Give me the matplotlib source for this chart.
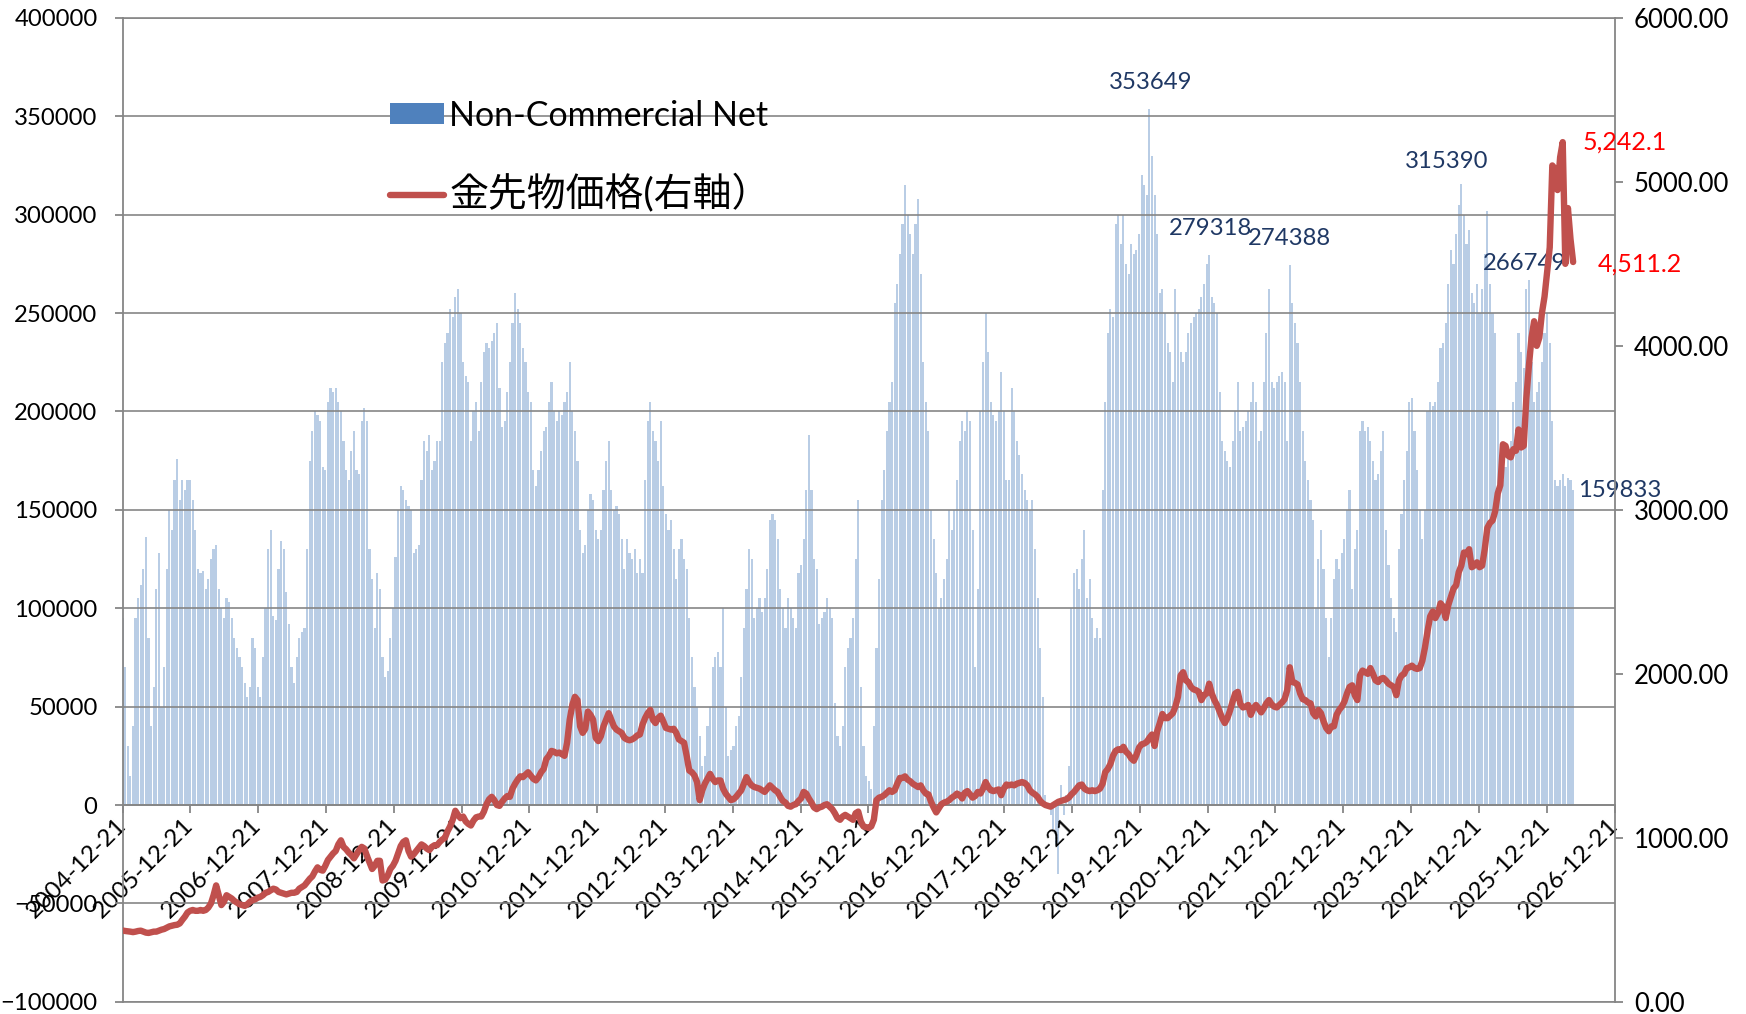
import numpy as np
import pandas as pd
import matplotlib
matplotlib.use('Agg')
import matplotlib.pyplot as plt
from matplotlib.patches import Patch
from matplotlib.lines import Line2D

plt.rcParams['font.family'] = ['Lato', 'Noto Sans CJK JP', 'DejaVu Sans']

# COT report dates, every second Tuesday from 2004-12-21
start_date = '2004-12-21'

# Non-Commercial net position (thousand contracts), one value per two weeks
net_k = [
    95, 70, 30, 15, 40, 95, 105, 112, 120, 136, 85, 40, 60, 110, 128, 50, 70, 120, 150, 140, 165, 176, 155, 165, 160, 165,
    165, 155, 140, 120, 118, 119, 110, 115, 125, 130, 132, 110, 100, 95, 105, 103, 95, 85, 80, 75, 70, 62, 55, 60, 85, 80,
    60, 55, 75, 100, 130, 140, 96, 94, 120, 134, 130, 108, 92, 70, 62, 75, 85, 88, 90, 130, 175, 190, 200, 198, 195, 172,
    170, 205, 212, 210, 212, 205, 200, 185, 170, 165, 180, 190, 170, 168, 195, 202, 195, 130, 115, 90, 118, 110, 75, 65, 68, 85,
    100, 126, 150, 162, 160, 155, 152, 150, 128, 130, 132, 165, 185, 180, 188, 170, 175, 185, 185, 225, 235, 240, 252, 248, 258, 262,
    250, 225, 218, 215, 185, 200, 205, 190, 215, 230, 235, 232, 236, 240, 245, 212, 192, 195, 210, 225, 245, 260, 252, 245, 232, 225,
    210, 205, 170, 162, 170, 180, 190, 192, 205, 215, 200, 195, 200, 198, 205, 210, 225, 200, 190, 175, 140, 128, 132, 150, 158, 155,
    140, 135, 140, 160, 175, 185, 160, 150, 152, 148, 135, 120, 135, 128, 125, 130, 118, 125, 118, 165, 195, 205, 190, 185, 175, 195,
    162, 148, 140, 145, 130, 115, 130, 135, 125, 120, 95, 75, 60, 50, 35, 20, 25, 40, 50, 70, 75, 78, 70, 100, 50, 25,
    28, 30, 40, 45, 65, 90, 110, 130, 125, 95, 100, 105, 98, 105, 120, 145, 148, 145, 135, 110, 100, 90, 105, 100, 95, 90,
    118, 122, 135, 160, 188, 160, 125, 120, 92, 95, 98, 105, 100, 95, 52, 35, 30, 40, 70, 80, 85, 95, 125, 155, 60, 30,
    15, 12, 8, 40, 80, 115, 155, 170, 190, 205, 215, 255, 265, 280, 295, 315, 300, 290, 280, 295, 308, 270, 225, 205, 190, 150,
    135, 118, 100, 105, 115, 125, 150, 140, 150, 165, 185, 195, 190, 200, 195, 140, 70, 110, 200, 225, 250, 230, 205, 198, 195, 200,
    220, 200, 165, 165, 212, 200, 185, 178, 168, 160, 155, 150, 155, 130, 105, 80, 55, 5, 0, -5, -12, -20, -35, 10, -5, 5,
    20, 100, 118, 120, 110, 125, 140, 105, 115, 95, 85, 90, 85, 160, 205, 240, 252, 248, 295, 300, 285, 300, 275, 270, 285, 280,
    282, 290, 320, 315, 310, 353.649, 330, 310, 290, 260, 262, 250, 235, 230, 215, 262, 250, 230, 225, 230, 240, 245, 248, 250, 252, 258,
    265, 275, 279.318, 258, 255, 250, 210, 185, 180, 175, 172, 185, 200, 215, 190, 192, 195, 200, 205, 215, 205, 185, 190, 215, 240, 262,
    215, 212, 215, 218, 220, 215, 185, 274.388, 255, 245, 235, 215, 190, 175, 165, 155, 145, 100, 125, 140, 120, 95, 75, 95, 115, 125,
    120, 128, 135, 150, 160, 110, 130, 140, 190, 195, 190, 192, 185, 175, 165, 168, 180, 190, 140, 122, 105, 95, 88, 130, 148, 165,
    180, 205, 207, 190, 170, 150, 135, 150, 200, 205, 203, 205, 215, 232, 235, 245, 265, 282, 275, 290, 305, 315.390, 300, 285, 292, 260,
    255, 265, 250, 262, 280, 302, 265, 250, 240, 200, 170, 165, 172, 180, 185, 205, 215, 240, 230, 222, 262, 266.749, 225, 205, 210, 215,
    225, 240, 250, 235, 195, 165, 162, 165, 168, 162, 166, 165, 159.833,
]

# gold futures price (USD/oz), same dates
gold = [
    435, 432, 430, 428, 425, 428, 432, 434, 428, 422, 420, 424, 428, 428, 434, 440, 444, 452, 460, 464, 468, 470, 478, 500, 520, 545,
    555, 560, 555, 555, 560, 555, 560, 575, 600, 650, 710, 650, 590, 610, 650, 640, 630, 615, 605, 595, 590, 585, 595, 610, 620, 625,
    635, 640, 650, 665, 670, 680, 690, 685, 670, 665, 660, 655, 660, 665, 665, 670, 690, 700, 710, 730, 750, 765, 795, 820, 805, 800,
    830, 865, 885, 905, 920, 960, 985, 945, 930, 910, 895, 875, 900, 925, 945, 935, 890, 850, 810, 830, 860, 860, 740, 745, 770, 810,
    830, 860, 905, 950, 975, 985, 920, 885, 900, 920, 940, 960, 950, 935, 925, 945, 955, 955, 975, 990, 1000, 1040, 1070, 1110, 1165, 1140,
    1120, 1130, 1100, 1085, 1075, 1105, 1125, 1130, 1130, 1160, 1205, 1235, 1250, 1230, 1200, 1195, 1220, 1240, 1255, 1250, 1300, 1330, 1355, 1375, 1370, 1385,
    1400, 1380, 1360, 1350, 1370, 1400, 1420, 1480, 1500, 1530, 1525, 1515, 1520, 1510, 1500, 1580, 1720, 1810, 1860, 1840, 1680, 1640, 1665, 1770, 1750, 1720,
    1610, 1590, 1620, 1680, 1720, 1760, 1720, 1680, 1660, 1650, 1640, 1610, 1600, 1595, 1600, 1610, 1625, 1630, 1690, 1730, 1760, 1780, 1720, 1700, 1730, 1745,
    1710, 1670, 1665, 1660, 1665, 1640, 1600, 1590, 1580, 1500, 1410, 1400, 1380, 1340, 1230, 1290, 1330, 1360, 1390, 1360, 1340, 1350, 1350, 1300, 1270, 1250,
    1230, 1235, 1250, 1270, 1290, 1330, 1370, 1340, 1320, 1310, 1305, 1300, 1290, 1280, 1300, 1320, 1305, 1290, 1280, 1250, 1225, 1215, 1195, 1190, 1200, 1205,
    1225, 1240, 1280, 1270, 1240, 1215, 1185, 1175, 1185, 1190, 1200, 1205, 1190, 1175, 1150, 1120, 1110, 1130, 1140, 1130, 1120, 1110, 1150, 1160, 1100, 1070,
    1065, 1060, 1070, 1110, 1230, 1245, 1250, 1260, 1275, 1290, 1280, 1290, 1330, 1365, 1365, 1375, 1355, 1345, 1330, 1320, 1310, 1320, 1290, 1270, 1265, 1220,
    1185, 1155, 1180, 1205, 1215, 1220, 1230, 1245, 1255, 1270, 1260, 1240, 1275, 1285, 1265, 1245, 1255, 1280, 1270, 1300, 1340, 1310, 1290, 1285, 1290, 1295,
    1260, 1300, 1325, 1320, 1325, 1320, 1330, 1335, 1340, 1335, 1320, 1290, 1275, 1265, 1250, 1225, 1210, 1200, 1195, 1190, 1200, 1210, 1220, 1225, 1230, 1235,
    1245, 1265, 1280, 1300, 1320, 1325, 1300, 1290, 1285, 1290, 1285, 1290, 1300, 1330, 1400, 1420, 1450, 1500, 1530, 1540, 1535, 1555, 1525, 1510, 1485, 1470,
    1505, 1550, 1570, 1575, 1585, 1610, 1630, 1560, 1650, 1700, 1755, 1730, 1730, 1745, 1760, 1800, 1860, 1990, 2010, 1960, 1950, 1920, 1905, 1900, 1890, 1840,
    1870, 1880, 1940, 1880, 1840, 1810, 1770, 1730, 1700, 1730, 1775, 1830, 1880, 1890, 1815, 1795, 1800, 1810, 1750, 1790, 1810, 1790, 1765, 1790, 1820, 1840,
    1815, 1800, 1795, 1810, 1825, 1845, 1900, 2040, 1950, 1945, 1935, 1880, 1845, 1840, 1825, 1820, 1760, 1740, 1780, 1760, 1710, 1670, 1650, 1680, 1680, 1750,
    1780, 1800, 1830, 1880, 1920, 1930, 1870, 1840, 1990, 2020, 2010, 2000, 2035, 2000, 1960, 1950, 1970, 1975, 1960, 1940, 1930, 1920, 1870, 1960, 1990, 2000,
    2035, 2040, 2050, 2035, 2030, 2035, 2080, 2160, 2260, 2350, 2380, 2340, 2370, 2430, 2410, 2340, 2420, 2470, 2520, 2540, 2620, 2660, 2740, 2730, 2760, 2650,
    2660, 2680, 2650, 2660, 2760, 2890, 2920, 2935, 2990, 3100, 3150, 3400, 3390, 3330, 3320, 3370, 3360, 3490, 3380, 3390, 3680, 3880, 4050, 4150, 4000, 4050,
    4200, 4300, 4450, 4600, 5100, 5080, 4950, 5150, 5242.1, 4500, 4840, 4650, 4511.2,
]

# labelled bars and price points
net_peaks = [353649, 279318, 274388, 315390, 266749]
net_last = 159833
gold_peak_label = '5,242.1'
gold_last_label = '4,511.2'

legend_labels = ['Non-Commercial Net', '金先物価格(右軸）']

net = np.array(net_k) * 1000
dates = pd.date_range(start_date, periods=len(net), freq='14D')
tick_dates = [pd.Timestamp(f'{y}-12-21') for y in range(2004, 2027)]

grey = '#868686'
bar_col = '#b9cde5'
red = '#c0504d'
navy = '#1f3864'

fig = plt.figure(figsize=(17.46, 10.14), dpi=100)
ax = fig.add_axes([0.0702, 0.012, 0.8545, 0.9704])

ax.bar(dates, net, width=11.5, color=bar_col, linewidth=0, zorder=1)

ax.set_xlim(pd.Timestamp('2004-12-21'), pd.Timestamp('2026-12-21'))
ax.set_ylim(-100000, 400000)
ax.set_yticks(range(-100000, 400001, 50000))
ax.yaxis.grid(True, color=grey, lw=1.2)
ax.axhline(400000, color=grey, lw=1.2, clip_on=False)
ax.axhline(-100000, color=grey, lw=1.2, clip_on=False)

ax.spines['bottom'].set_position(('data', 0))
ax.spines['top'].set_visible(False)
ax.spines['right'].set_visible(False)
for s in ['bottom', 'left']:
    ax.spines[s].set_color(grey)
    ax.spines[s].set_linewidth(1.3)

ax.set_xticks(tick_dates)
ax.set_xticklabels([d.strftime('%Y-%m-%d') for d in tick_dates], rotation=45,
                   ha='right', va='center', rotation_mode='anchor')
ax.tick_params(axis='x', direction='out', length=6, width=1.3, color=grey,
               labelsize=17.5, pad=6)
ax.tick_params(axis='y', direction='out', length=6, width=1.3, color=grey,
               labelsize=17.2, pad=12)

# net position labels
offsets = [(1, 27), (1, 27), (0, 27), (-15, 23), (-4, 17)]
for v, (dx, dy) in zip(net_peaks, offsets):
    i = int(np.argmin(np.abs(net - v)))
    ax.annotate(str(v), xy=(dates[i], v), xytext=(dx, dy), textcoords='offset pixels',
                ha='center', va='center', color=navy, fontsize=17.2)
i = int(np.argmin(np.abs(net - net_last)))
ax.annotate(str(net_last), xy=(dates[i], net_last), xytext=(5, 0), textcoords='offset pixels',
            ha='left', va='center', color=navy, fontsize=17.2)

ax2 = ax.twinx()
ax2.plot(dates, gold, color=red, lw=4.6, solid_joinstyle='round', solid_capstyle='round')
ax2.set_ylim(0, 6000)
ax2.set_yticks(range(0, 6001, 1000))
ax2.set_yticklabels([f'{v:.2f}' for v in range(0, 6001, 1000)])
for s in ['top', 'bottom', 'left']:
    ax2.spines[s].set_visible(False)
ax2.spines['right'].set_color(grey)
ax2.spines['right'].set_linewidth(1.3)
ax2.tick_params(axis='y', direction='out', length=6, width=1.3, color=grey,
                labelsize=18.5, pad=8)

g = np.array(gold)
ip = int(np.argmax(g))
ax2.annotate(gold_peak_label, xy=(dates[ip], g[ip]), xytext=(20, 0), textcoords='offset pixels',
             ha='left', va='center', color='#ff0000', fontsize=18)
ax2.annotate(gold_last_label, xy=(dates[-1], g[-1]), xytext=(25, -2), textcoords='offset pixels',
             ha='left', va='center', color='#ff0000', fontsize=18)

handles = [Patch(facecolor='#4f81bd', edgecolor='none'),
           Line2D([0], [0], color=red, lw=4.6, solid_capstyle='round')]
leg = ax2.legend(handles, legend_labels, loc='upper left', bbox_to_anchor=(0.179, 0.917),
                 frameon=False, fontsize=24.5, handlelength=1.6, handleheight=0.6,
                 handletextpad=0.15, labelspacing=1.25, borderaxespad=0, borderpad=0)
leg.get_texts()[1].set_fontsize(28)

fig.savefig('out.png', dpi=100, facecolor='white')
